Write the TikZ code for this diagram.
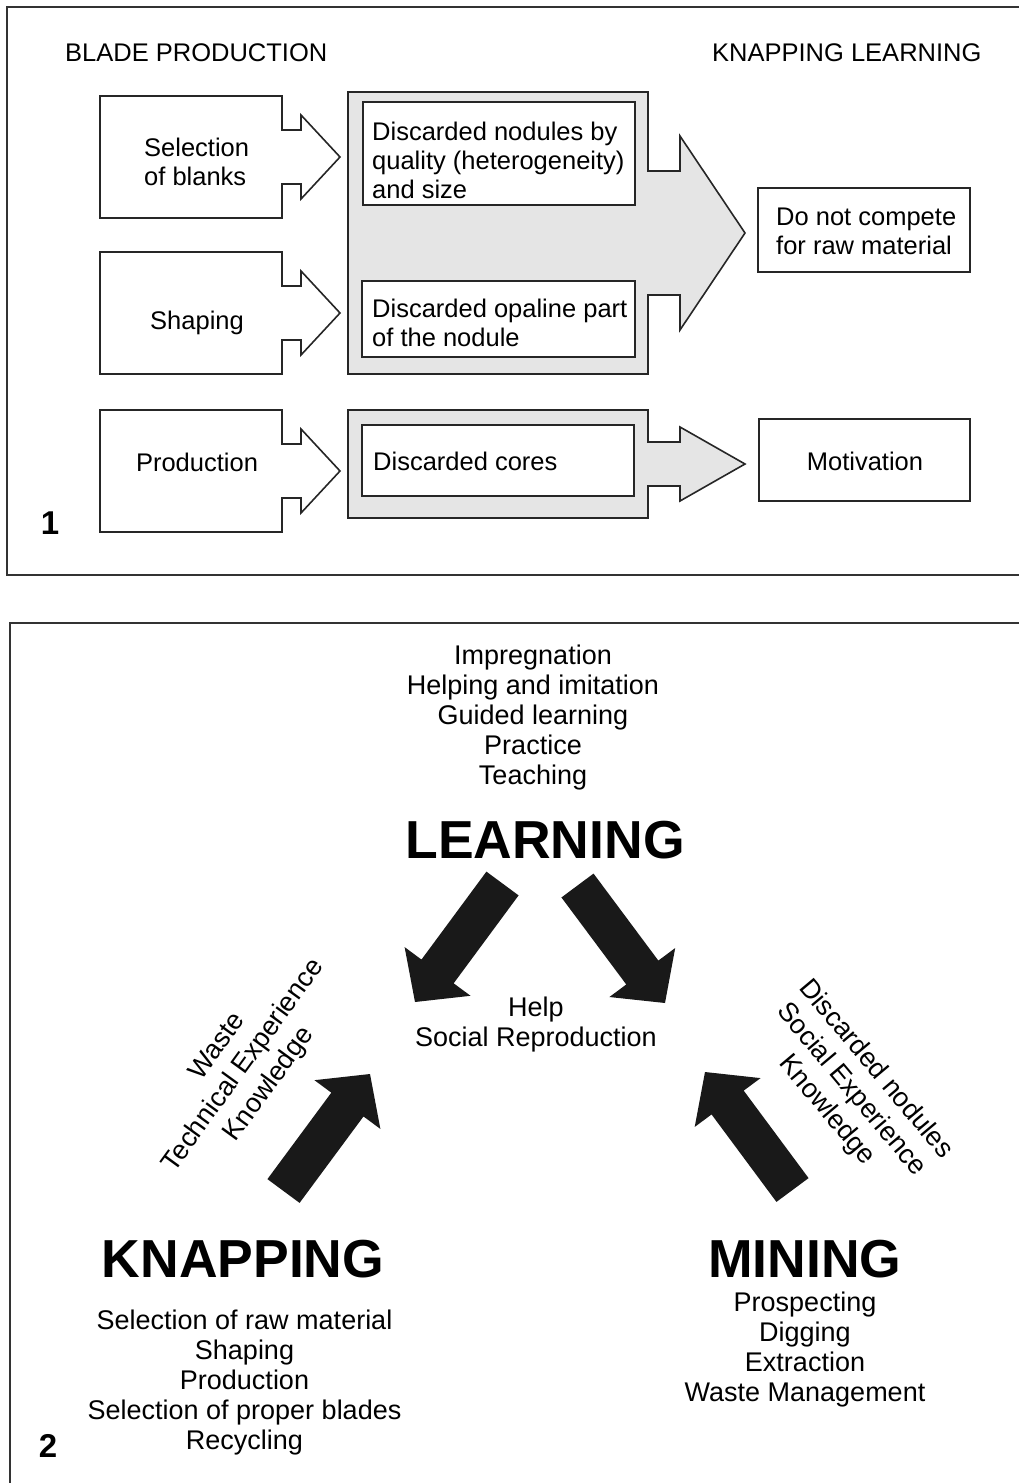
\documentclass[tikz,border=0pt]{standalone}
\usepackage{fontspec}
\setmainfont{Liberation Sans}
\usetikzlibrary{calc}

% box with an arrow head on its right side
\newcommand{\boxarrow}[9]{%
  \path[#1] (#2,#3) -- (#4,#3) -- (#4,{(#3+#5)/2-#8}) -- (#6,{(#3+#5)/2-#8})
    -- (#6,{(#3+#5)/2-#9}) -- (#7,{(#3+#5)/2}) -- (#6,{(#3+#5)/2+#9})
    -- (#6,{(#3+#5)/2+#8}) -- (#4,{(#3+#5)/2+#8}) -- (#4,#5) -- (#2,#5) -- cycle;}

% thick black arrow from #1 to #2
\newcommand{\fatarrow}[2]{%
  \coordinate (neck) at ($(#2)!38pt!(#1)$);
  \fill[blockarrow] ($(#1)!20pt!90:(#2)$) -- ($(neck)!20pt!90:(#2)$)
    -- ($(neck)!41pt!90:(#2)$) -- (#2) -- ($(neck)!41pt!-90:(#2)$)
    -- ($(neck)!20pt!-90:(#2)$) -- ($(#1)!20pt!-90:(#2)$) -- cycle;}

\begin{document}
\begin{tikzpicture}[x=1pt,y=-1pt,
  panelframe/.style={draw=black!80,line width=2pt},
  whitearrow/.style={draw=black!85,line width=1.6pt,fill=white},
  grayarrow/.style={draw=black!85,line width=1.6pt,fill=gray!20},
  innerbox/.style={draw=black!85,line width=1.6pt,fill=white},
  blockarrow/.style={fill=black!90},
  p1/.style={font=\fontsize{25.5}{29}\selectfont,inner sep=0pt,align=left},
  p2/.style={font=\fontsize{27}{30}\selectfont,inner sep=0pt,align=center},
  bigtitle/.style={font=\fontsize{53.5}{60}\selectfont\bfseries,inner sep=0pt},
  panelno/.style={font=\fontsize{33}{36}\selectfont\bfseries,inner sep=0pt}]
\useasboundingbox (0,0) rectangle (1019,1483);

% panel 1
\draw[panelframe] (7,7) rectangle (1040,575);
\node[p1,anchor=base west] (bladehd) at (65,61) {BLADE PRODUCTION};
\node[p1,anchor=base west] (knaphd) at (712,61) {KNAPPING LEARNING};

\boxarrow{whitearrow}{100}{96}{282}{218}{301}{340}{27}{42}
\boxarrow{whitearrow}{100}{252}{282}{374}{301}{340}{27}{42}
\boxarrow{whitearrow}{100}{410}{282}{532}{301}{340}{27}{42}
\boxarrow{grayarrow}{348}{92}{648}{374}{680}{745}{62}{97}
\boxarrow{grayarrow}{348}{410}{648}{518}{680}{745}{22}{37}

\draw[innerbox] (363,102) rectangle (635,205);
\draw[innerbox] (362,281) rectangle (635,357);
\draw[innerbox] (362,425) rectangle (634,496);
\draw[innerbox] (758,188) rectangle (970,272);
\draw[innerbox] (759,419) rectangle (970,501);

\node[p1,anchor=west] (selection) at (144,162) {Selection\\of blanks};
\node[p1,anchor=base] (shaping) at (197,329) {Shaping};
\node[p1,anchor=base] (production) at (197,471) {Production};
\node[p1,anchor=west] (nodules) at (372,160) {Discarded nodules by\\quality (heterogeneity)\\and size};
\node[p1,anchor=west] (opaline) at (372,323) {Discarded opaline part\\of the nodule};
\node[p1,anchor=base west] (cores) at (373,470) {Discarded cores};
\node[p1,anchor=west] (compete) at (776,231) {Do not compete\\for raw material};
\node[p1,anchor=base] (motivation) at (865,470) {Motivation};
\node[panelno,anchor=base] (one) at (50,534) {1};

% panel 2
\draw[panelframe] (10,623) rectangle (1040,1520);
\node[p2] (learnlist) at (533,718) {Impregnation\\Helping and imitation\\Guided learning\\Practice\\Teaching};
\node[bigtitle,anchor=base] (learning) at (545,858) {LEARNING};
\node[p2] (help) at (536,1025) {Help\\Social Reproduction};
\node[p2,font=\fontsize{27}{32}\selectfont,rotate=54] (knapgain) at (244,1066) {Waste\\Technical Experience\\Knowledge};
\node[p2,font=\fontsize{27}{32}\selectfont,rotate=-50] (minegain) at (851,1090) {Discarded nodules\\Social Experience\\Knowledge};
\node[bigtitle,anchor=base] (knapping) at (243,1277) {KNAPPING};
\node[p2] (knaplist) at (244.5,1383) {Selection of raw material\\Shaping\\Production\\Selection of proper blades\\Recycling};
\node[bigtitle,anchor=base] (mining) at (805,1277) {MINING};
\node[p2] (minelist) at (805,1350) {Prospecting\\Digging\\Extraction\\Waste Management};
\node[panelno,anchor=base] (two) at (48,1457) {2};

\coordinate (lrnA) at (502.5,883.5);
\coordinate (helpA) at (415,1002);
\coordinate (lrnB) at (577.5,885.5);
\coordinate (helpB) at (665,1003);
\coordinate (knpC) at (283.5,1191);
\coordinate (helpC) at (370,1074);
\coordinate (minD) at (792.5,1190);
\coordinate (helpD) at (705,1072);
\fatarrow{lrnA}{helpA}
\fatarrow{lrnB}{helpB}
\fatarrow{knpC}{helpC}
\fatarrow{minD}{helpD}
\end{tikzpicture}
\end{document}
